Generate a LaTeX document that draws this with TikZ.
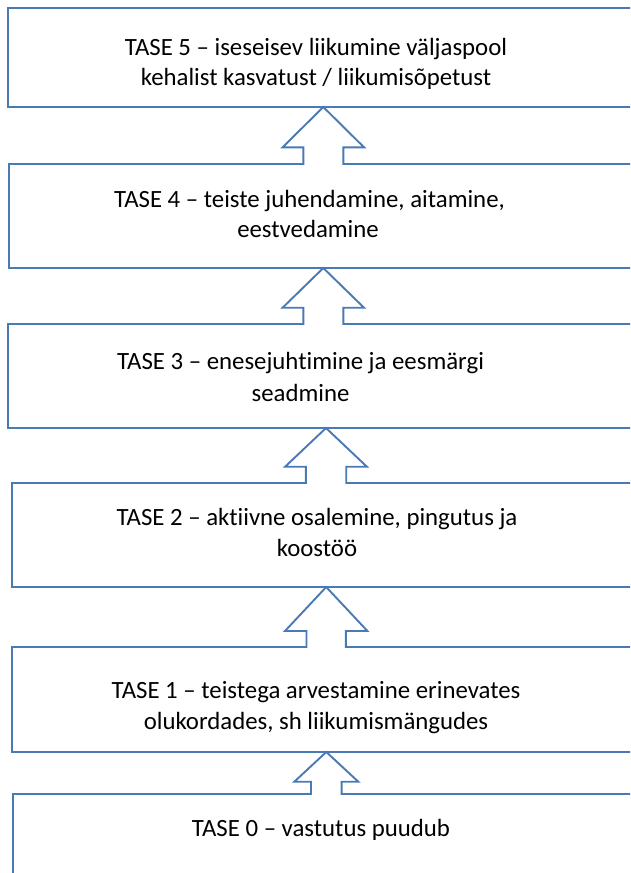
\documentclass[tikz,border=0pt]{standalone}
\usepackage{fontspec}
\setmainfont{Carlito}[Ligatures=CommonOff]
\usetikzlibrary{calc}
\definecolor{edgeblue}{RGB}{74,122,181}
\newcommand\blockup[6]{% #1 x, #2 upper node, #3 lower node, #4 head half width, #5 stem half width, #6 head base y
  \fill[white] ($({#1-#5},0 |- #3.north)+(0,1.2)$) -- ({#1-#5},#6) -- ({#1-#4},#6) -- (#1,0 |- #2.south)
     -- ({#1+#4},#6) -- ({#1+#5},#6) -- ($({#1+#5},0 |- #3.north)+(0,1.2)$) -- cycle;
  \draw[arrowline] ($({#1-#5},0 |- #3.north)+(0,0.9)$) -- ({#1-#5},#6) -- ({#1-#4},#6) -- (#1,0 |- #2.south)
     -- ({#1+#4},#6) -- ({#1+#5},#6) -- ($({#1+#5},0 |- #3.north)+(0,0.9)$);
}
\begin{document}
\begin{tikzpicture}[x=1pt,y=-1pt,
  levelbox/.style={draw=edgeblue, line width=1.9pt, fill=white, rectangle, anchor=north west,
    inner sep=0pt, outer sep=0pt, minimum width=650pt},
  arrowline/.style={draw=edgeblue, line width=1.9pt, line join=miter},
  lbl/.style={anchor=base, inner sep=0pt, outer sep=0pt, font=\fontsize{24.8}{31}\selectfont, text=black}]
\useasboundingbox (0,0) rectangle (630,873);
\fill[white] (0,0) rectangle (630,873);
\begin{scope}
\clip (0,0) rectangle (630,873);
% boxes
\node[levelbox, minimum height=99pt]  (b5) at (8,8) {};
\node[levelbox, minimum height=104pt] (b4) at (9,164) {};
\node[levelbox, minimum height=104pt] (b3) at (8,324) {};
\node[levelbox, minimum height=104pt] (b2) at (12,483) {};
\node[levelbox, minimum height=105pt] (b1) at (12,647) {};
\node[levelbox, minimum height=150pt] (b0) at (13,794) {};
% block arrows
\blockup{323.3}{b5}{b4}{40.7}{20}{147.3}
\blockup{323.3}{b4}{b3}{40.7}{20}{307.7}
\blockup{326}{b3}{b2}{40.9}{20.2}{466.7}
\blockup{326.2}{b2}{b1}{41.2}{19.7}{631}
\blockup{326.3}{b1}{b0}{32}{15.3}{781.7}
% texts
\node[lbl] (t5a) at (316,55)    {TASE 5 – iseseisev liikumine väljaspool};
\node[lbl] (t5b) at (316,85)    {kehalist kasvatust / liikumisõpetust};
\node[lbl] (t4a) at (309.5,207) {TASE 4 – teiste juhendamine, aitamine,};
\node[lbl] (t4b) at (308,237)   {eestvedamine};
\node[lbl] (t3a) at (300.5,369) {TASE 3 – enesejuhtimine ja eesmärgi};
\node[lbl] (t3b) at (300.5,401.5) {seadmine};
\node[lbl] (t2a) at (317,525)   {TASE 2 – aktiivne osalemine, pingutus ja};
\node[lbl] (t2b) at (317,556.5) {koostöö};
\node[lbl] (t1a) at (316,698)   {TASE 1 – teistega arvestamine erinevates};
\node[lbl] (t1b) at (316,729)   {olukordades, sh liikumismängudes};
\node[lbl] (t0)  at (321,836.5) {TASE 0 – vastutus puudub};
\end{scope}
\end{tikzpicture}
\end{document}
